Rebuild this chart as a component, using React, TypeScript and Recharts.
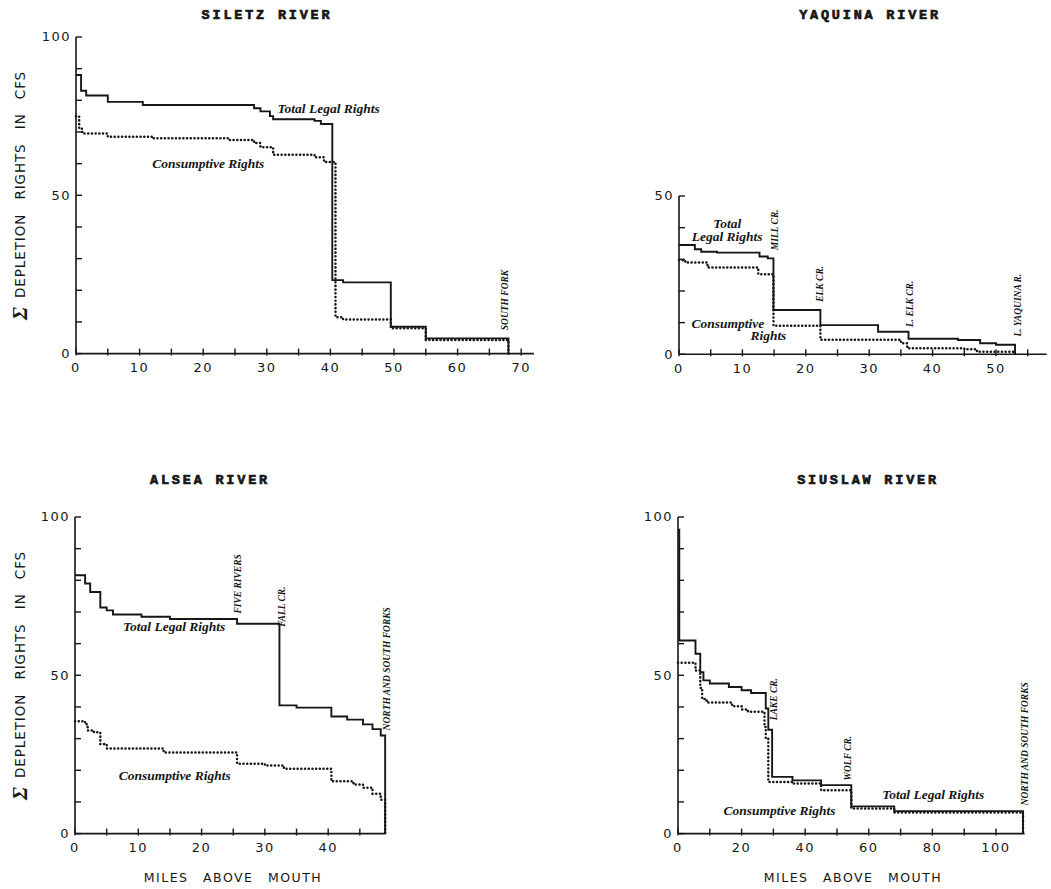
import { LineChart, Line, XAxis, YAxis, ReferenceDot } from 'recharts';

// Siletz River
const siletzMiles = [0, 0.5, 0.8, 1, 1.6, 5, 10.5, 12, 24, 28, 29, 30.5, 31, 37.5, 38.5, 39, 40.3, 40.8, 42, 49.5, 55, 68];
const siletzTotal = [88, 88, 83, 83, 81.5, 79.5, 78.5, 78.5, 78.5, 77.5, 76.5, 75, 74, 73.5, 72.5, 72.5, 23.2, 23.2, 22.5, 8.5, 4.8, 0];
const siletzConsumptive = [75, 71, 71, 69.5, 69.5, 68.5, 68.5, 68, 67.5, 66.5, 65.2, 65.2, 62.8, 62, 62, 60.5, 60.5, 11.5, 10.8, 8, 4.3, 0];

// Yaquina River
const yaquinaMiles = [0, 1, 2.5, 3.5, 4.5, 6, 12.5, 12.7, 14, 14.9, 22.3, 31.4, 35, 36, 36.2, 44, 45, 47, 47.5, 50, 53];
const yaquinaTotal = [34.5, 34.5, 33.2, 32.4, 32.4, 32.1, 32.1, 30.9, 30.3, 14, 9.2, 7.1, 7.1, 7.1, 4.9, 4.5, 4.5, 4.5, 3.5, 3, 0];
const yaquinaConsumptive = [29.7, 29, 29, 29, 27.4, 27.4, 25.3, 25.3, 25.3, 9, 4.6, 4.6, 3.5, 1.9, 1.9, 1.9, 1.6, 0.8, 0.8, 0.8, 0];

// Alsea River
const alseaMiles = [0, 1.6, 2, 2.4, 3, 4, 5, 6, 10.5, 14, 15, 25.6, 30, 32.3, 33, 35, 40.5, 43, 44, 45.5, 47, 48.3, 49];
const alseaTotal = [81.6, 79, 79, 76.3, 76.3, 71.4, 70.5, 69.2, 68.5, 68.5, 67.8, 66.3, 66.3, 40.5, 40.5, 39.8, 37, 36, 36, 34.5, 33, 31, 0];
const alseaConsumptive = [35.5, 34.5, 32.6, 32.6, 32, 28.3, 26.9, 26.9, 26.9, 25.6, 25.6, 22.1, 21.5, 21.5, 20.5, 20.5, 16.5, 16.5, 15.5, 14.5, 12.6, 10.7, 0];

// Siuslaw River
const siuslawMiles = [0, 0.4, 5.5, 7, 7.6, 8, 9, 10, 16, 17, 20, 22, 23, 27.2, 27.6, 28.4, 29.6, 36, 45, 54.5, 68, 108.5];
const siuslawTotal = [96, 61, 56.8, 51, 51, 48.4, 48.4, 47.4, 46.3, 46.3, 45.3, 45.3, 44.4, 44.4, 39.5, 32.8, 17.9, 16.8, 15.3, 8.6, 7.1, 0];
const siuslawConsumptive = [54, 54, 51.5, 46, 42.5, 42.5, 41.4, 41.4, 41.4, 40.2, 39.2, 38.5, 38.5, 33.7, 30, 16.3, 16.3, 15.8, 13.7, 7.9, 6.7, 0];

// axis ticks (tick marks) and which of them get a label
const siletzXTicks = [0, 5, 10, 15, 20, 25, 30, 35, 40, 45, 50, 55, 60, 65, 70];
const siletzXLabels = [0, 10, 20, 30, 40, 50, 60, 70];
const yaquinaXTicks = [0, 5, 10, 15, 20, 25, 30, 35, 40, 45, 50, 55];
const yaquinaXLabels = [0, 10, 20, 30, 40, 50];
const alseaXTicks = [0, 5, 10, 15, 20, 25, 30, 35, 40, 45];
const alseaXLabels = [0, 10, 20, 30, 40];
const siuslawXTicks = [0, 10, 20, 30, 40, 50, 60, 70, 80, 90, 100];
const siuslawXLabels = [0, 20, 40, 60, 80, 100];
const yTicks100 = [0, 10, 20, 30, 40, 50, 60, 70, 80, 90, 100];
const yLabels100 = [0, 50, 100];
const yTicks50 = [0, 10, 20, 30, 40, 50];
const yLabels50 = [0, 50];

type Note = { x: number; y: number; text: string; vertical?: boolean; center?: boolean };

const siletzNotes: Note[] = [
  { x: 31.7, y: 77.5, text: 'Total Legal Rights' },
  { x: 12.0, y: 60.1, text: 'Consumptive Rights' },
  { x: 67.5, y: 7.4, text: 'SOUTH FORK', vertical: true },
];
const yaquinaNotes: Note[] = [
  { x: 7.6, y: 41.4, text: 'Total', center: true },
  { x: 7.6, y: 37.1, text: 'Legal Rights', center: true },
  { x: 7.7, y: 9.8, text: 'Consumptive', center: true },
  { x: 14.1, y: 5.8, text: 'Rights', center: true },
  { x: 15.1, y: 32.9, text: 'MILL CR.', vertical: true },
  { x: 22.2, y: 16.6, text: 'ELK CR.', vertical: true },
  { x: 36.4, y: 8.6, text: 'L. ELK CR.', vertical: true },
  { x: 53.5, y: 5.6, text: 'L. YAQUINA R.', vertical: true },
];
const alseaNotes: Note[] = [
  { x: 7.6, y: 65.3, text: 'Total Legal Rights' },
  { x: 6.9, y: 18.4, text: 'Consumptive Rights' },
  { x: 25.8, y: 69.5, text: 'FIVE RIVERS', vertical: true },
  { x: 32.7, y: 65.3, text: 'FALL CR.', vertical: true },
  { x: 49.3, y: 32.6, text: 'NORTH AND SOUTH FORKS', vertical: true },
];
const siuslawNotes: Note[] = [
  { x: 14.3, y: 7.4, text: 'Consumptive Rights' },
  { x: 64.2, y: 12.4, text: 'Total Legal Rights' },
  { x: 30.1, y: 35.8, text: 'LAKE CR.', vertical: true },
  { x: 53.6, y: 16.8, text: 'WOLF CR.', vertical: true },
  { x: 109.2, y: 8.9, text: 'NORTH AND SOUTH FORKS', vertical: true },
];

const INK = '#161616';
const TICK_FONT = "'DejaVu Sans', sans-serif";
const NOTE_FONT = "'Liberation Serif', 'DejaVu Serif', serif";
const TITLE_FONT = "'Liberation Mono', 'DejaVu Sans Mono', monospace";
const AXIS_W = 40;
const AXIS_H = 30;
const PAD = 12;
const Y_PX = 3.166; // px per cfs unit

const xTick = (labels: number[]) => (props: any) => {
  const { x, y, payload } = props;
  const v = payload.value;
  return (
    <g>
      <line x1={x} x2={x} y1={y + 2} y2={y - 5} stroke={INK} strokeWidth={1.4} />
      {labels.includes(v) && (
        <text x={x} y={y + 14} textAnchor='middle' dominantBaseline='central' fontFamily={TICK_FONT} fontSize={13} letterSpacing={1.5} fill={INK}>
          {v}
        </text>
      )}
    </g>
  );
};

const yTick = (labels: number[]) => (props: any) => {
  const { x, y, payload } = props;
  const v = payload.value;
  return (
    <g>
      <line x1={x} x2={x + 6} y1={y} y2={y} stroke={INK} strokeWidth={1.4} />
      {labels.includes(v) && (
        <text x={x - 5} y={y} textAnchor='end' dominantBaseline='central' fontFamily={TICK_FONT} fontSize={13} letterSpacing={1.5} fill={INK}>
          {v}
        </text>
      )}
    </g>
  );
};

const noteLabel = (n: Note) => (props: any) => {
  const vb = props.viewBox || {};
  const cx = (vb.x ?? 0) + (vb.width ?? 0) / 2;
  const cy = (vb.y ?? 0) + (vb.height ?? 0) / 2;
  if (n.vertical) {
    return (
      <text x={cx} y={cy} transform={`rotate(-90 ${cx} ${cy})`} textAnchor='start' dominantBaseline='central' fontFamily={NOTE_FONT} fontStyle='italic' fontWeight={700} fontSize={9.5} fill={INK}>
        {n.text}
      </text>
    );
  }
  return (
    <text x={cx} y={cy} textAnchor={n.center ? 'middle' : 'start'} dominantBaseline='central' fontFamily={NOTE_FONT} fontStyle='italic' fontWeight={700} fontSize={13.5} fill={INK}>
      {n.text}
    </text>
  );
};

interface PanelProps {
  left: number;
  top: number;
  pxPerMile: number;
  xMax: number;
  yMax: number;
  miles: number[];
  total: number[];
  consumptive: number[];
  xTicks: number[];
  xLabels: number[];
  yTicks: number[];
  yLabels: number[];
  notes: Note[];
}

const Panel = ({ left, top, pxPerMile, xMax, yMax, miles, total, consumptive, xTicks, xLabels, yTicks, yLabels, notes }: PanelProps) => {
  const plotW = xMax * pxPerMile;
  const plotH = yMax * Y_PX;
  const data = miles.map((m, i) => ({ mile: m, total: total[i], consumptive: consumptive[i] }));
  return (
    <div style={{ position: 'absolute', left: left - AXIS_W - PAD, top: top - PAD }}>
      <LineChart
        width={plotW + AXIS_W + 2 * PAD}
        height={plotH + AXIS_H + 2 * PAD}
        data={data}
        margin={{ top: PAD, right: PAD, left: PAD, bottom: PAD }}
      >
        <XAxis
          type='number'
          dataKey='mile'
          domain={[0, xMax]}
          ticks={xTicks}
          interval={0}
          height={AXIS_H}
          tickSize={0}
          tickMargin={0}
          tickLine={false}
          tick={xTick(xLabels)}
          stroke={INK}
          strokeWidth={1.6}
        />
        <YAxis
          type='number'
          domain={[0, yMax]}
          ticks={yTicks}
          interval={0}
          width={AXIS_W}
          tickSize={0}
          tickMargin={0}
          tickLine={false}
          tick={yTick(yLabels)}
          stroke={INK}
          strokeWidth={1.6}
        />
        <Line
          type='stepAfter'
          dataKey='consumptive'
          stroke={INK}
          strokeWidth={2.5}
          strokeDasharray='0.1 3.6'
          strokeLinecap='round'
          dot={false}
          isAnimationActive={false}
        />
        <Line
          type='stepAfter'
          dataKey='total'
          stroke={INK}
          strokeWidth={1.9}
          dot={false}
          isAnimationActive={false}
        />
        {notes.map((n) => (
          <ReferenceDot
            key={n.text + n.x}
            x={n.x}
            y={n.y}
            r={0}
            fill='none'
            stroke='none'
            ifOverflow='visible'
            label={noteLabel(n)}
          />
        ))}
      </LineChart>
    </div>
  );
};

const Y_LABEL_FONT = "'DejaVu Sans', sans-serif";

const YTitle = ({ x, y }: { x: number; y: number }) => (
  <text x={x} y={y} transform={`rotate(-90 ${x} ${y})`} textAnchor='start' dominantBaseline='central' fill={INK}>
    <tspan fontFamily={NOTE_FONT} fontStyle='italic' fontWeight={700} fontSize={21}>Σ</tspan>
    <tspan fontFamily={Y_LABEL_FONT} fontSize={13.5} letterSpacing={0.9} wordSpacing={9} dx={9}>DEPLETION RIGHTS IN CFS</tspan>
  </text>
);

const XTitle = ({ x, y }: { x: number; y: number }) => (
  <text x={x} y={y} textAnchor='middle' dominantBaseline='central' fontFamily={Y_LABEL_FONT} fontSize={12.5} letterSpacing={1.5} wordSpacing={9} fill={INK}>
    MILES ABOVE MOUTH
  </text>
);

const Title = ({ x, y, text }: { x: number; y: number; text: string }) => (
  <text x={x} y={y} textAnchor='middle' dominantBaseline='central' fontFamily={TITLE_FONT} fontWeight={700} fontSize={13.5} letterSpacing={2.8} fill={INK} stroke={INK} strokeWidth={0.7}>
    {text}
  </text>
);

export default function App() {
  return (
    <div style={{ position: 'absolute', left: 0, top: 0, width: 1051, height: 889, overflow: 'hidden', background: '#fff' }}>
      <Panel left={75.6} top={36.7} pxPerMile={6.36} xMax={72} yMax={100} miles={siletzMiles} total={siletzTotal} consumptive={siletzConsumptive} xTicks={siletzXTicks} xLabels={siletzXLabels} yTicks={yTicks100} yLabels={yLabels100} notes={siletzNotes} />
      <Panel left={679} top={195.7} pxPerMile={6.34} xMax={58} yMax={50} miles={yaquinaMiles} total={yaquinaTotal} consumptive={yaquinaConsumptive} xTicks={yaquinaXTicks} xLabels={yaquinaXLabels} yTicks={yTicks50} yLabels={yLabels50} notes={yaquinaNotes} />
      <Panel left={74.8} top={516.7} pxPerMile={6.33} xMax={49} yMax={100} miles={alseaMiles} total={alseaTotal} consumptive={alseaConsumptive} xTicks={alseaXTicks} xLabels={alseaXLabels} yTicks={yTicks100} yLabels={yLabels100} notes={alseaNotes} />
      <Panel left={677.7} top={516.7} pxPerMile={3.18} xMax={109} yMax={100} miles={siuslawMiles} total={siuslawTotal} consumptive={siuslawConsumptive} xTicks={siuslawXTicks} xLabels={siuslawXLabels} yTicks={yTicks100} yLabels={yLabels100} notes={siuslawNotes} />
      <svg width={1051} height={889} style={{ position: 'absolute', left: 0, top: 0, pointerEvents: 'none' }}>
        <Title x={267} y={15} text='SILETZ RIVER' />
        <Title x={870} y={15} text='YAQUINA RIVER' />
        <Title x={210} y={480} text='ALSEA RIVER' />
        <Title x={868} y={480} text='SIUSLAW RIVER' />
        <YTitle x={20} y={320} />
        <YTitle x={20} y={800} />
        <XTitle x={233} y={877} />
        <XTitle x={853} y={877} />
      </svg>
    </div>
  );
}
